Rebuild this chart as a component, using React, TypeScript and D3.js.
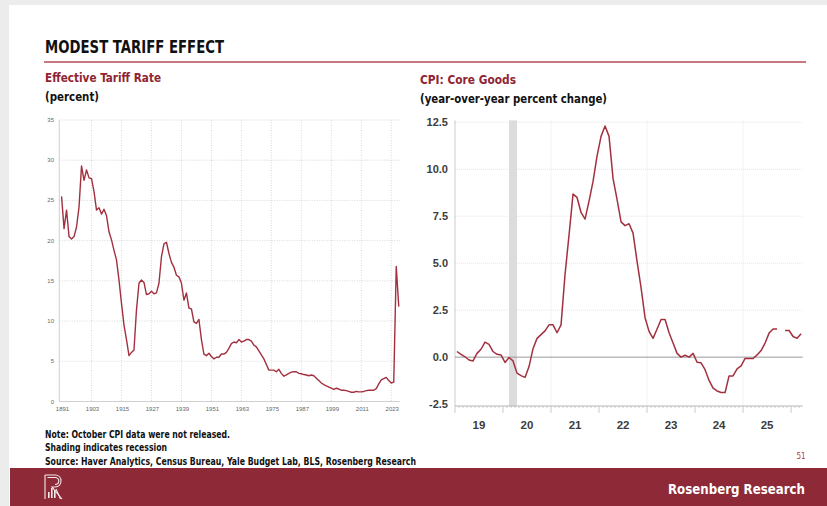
import React from 'react';
import * as d3 from 'd3';

// ---------- Effective tariff rate (percent), annual from 1891 ----------
const tariffStartYear = 1891;
const tariffRate = [
  25.5, 21.5, 23.8, 20.5, 20.2, 20.5, 21.7, 24.2, 29.3, 27.5, // 1891-1900
  28.8, 27.8, 27.7, 26.1, 23.8, 24.1, 23.3, 23.9, 23.1, 21.1, // 1901-1910
  20.1, 18.8, 17.6, 15.1, 12.2, 9.5, 7.7, 5.7, 6.1, 6.4, // 1911-1920
  11.4, 14.7, 15.1, 14.8, 13.3, 13.4, 13.7, 13.4, 13.5, 14.7, // 1921-1930
  18.0, 19.6, 19.8, 18.4, 17.3, 16.7, 15.7, 15.5, 14.7, 12.6, // 1931-1940
  13.5, 11.6, 11.5, 9.9, 9.7, 10.2, 7.7, 5.9, 5.7, 6.0, // 1941-1950
  5.6, 5.3, 5.5, 5.5, 5.9, 5.9, 6.1, 6.6, 7.2, 7.4, // 1951-1960
  7.3, 7.7, 7.4, 7.5, 7.7, 7.7, 7.5, 7.0, 6.8, 6.3, // 1961-1970
  5.8, 5.3, 4.6, 3.9, 3.9, 3.9, 3.7, 4.0, 3.5, 3.15, // 1971-1980
  3.3, 3.5, 3.65, 3.7, 3.7, 3.5, 3.45, 3.35, 3.3, 3.2, // 1981-1990
  3.3, 3.2, 2.9, 2.6, 2.3, 2.1, 1.95, 1.8, 1.65, 1.5, // 1991-2000
  1.65, 1.55, 1.4, 1.4, 1.35, 1.25, 1.15, 1.15, 1.25, 1.2, // 2001-2010
  1.2, 1.25, 1.35, 1.4, 1.4, 1.4, 1.6, 2.2, 2.7, 2.85, // 2011-2020
  3.0, 2.6, 2.3, 2.4, 16.8, 11.8, // 2021-2026
];
const tariffXTicks = [1891, 1903, 1915, 1927, 1939, 1951, 1963, 1975, 1987, 1999, 2011, 2023];
const tariffYTicks = [0, 5, 10, 15, 20, 25, 30, 35];

// ---------- CPI core goods (y/y %), monthly from Jan 2019 ----------
const cpiStartYear = 2019;
const cpiCoreGoods: (number | null)[] = [
  0.3, 0.15, 0.02, -0.15, -0.2, 0.2, 0.42, 0.8, 0.68, 0.3, 0.15, 0.12, // 2019
  -0.28, -0.02, -0.2, -0.85, -0.98, -1.08, -0.5, 0.45, 1.0, 1.2, 1.4, 1.72, // 2020
  1.72, 1.3, 1.72, 4.4, 6.5, 8.68, 8.5, 7.7, 7.35, 8.3, 9.35, 10.7, // 2021
  11.75, 12.3, 11.75, 9.5, 8.4, 7.2, 7.0, 7.1, 6.6, 5.1, 3.7, 2.1, // 2022
  1.37, 1.0, 1.5, 2.0, 2.0, 1.3, 0.75, 0.2, 0.0, 0.1, 0.0, 0.2, // 2023
  -0.27, -0.3, -0.67, -1.24, -1.65, -1.8, -1.88, -1.88, -1.0, -1.0, -0.62, -0.46, // 2024
  -0.07, -0.07, -0.07, 0.12, 0.35, 0.75, 1.28, 1.5, 1.5, null, 1.42, 1.42, // 2025 (Oct not released)
  1.1, 1.0, 1.24, // 2026
];
const cpiYearLabels = ['19', '20', '21', '22', '23', '24', '25'];
const cpiYTicks = [-2.5, 0, 2.5, 5, 7.5, 10, 12.5];
const cpiGridYears = [2021, 2023, 2025];
// COVID recession, Feb–Apr 2020 (month index from Jan 2019)
const recessionMonths = [13, 15];

const TITLE_RED = '#8f2533';
const LINE_RED = '#a3303f';
const BAND_RED = '#8e2a37';
const COND = "'Liberation Sans Narrow', 'Arial Narrow', 'DejaVu Sans Condensed', sans-serif";
const SANS = "'Liberation Sans', Arial, sans-serif";

export default function App() {
  // Left panel scales
  const xL = d3.scaleLinear().domain([1890.1, 2026.5]).range([59.3, 400]);
  const yL = d3.scaleLinear().domain([0, 35]).range([401.5, 120]);
  const tariffLine = d3
    .line<number>()
    .x((_, i) => xL(tariffStartYear + i))
    .y((d) => yL(d));

  // Right panel scales (x in months since Jan 2019)
  const xR = d3.scaleLinear().domain([0, 86.9]).range([455, 802.7]);
  const yR = d3.scaleLinear().domain([-2.6, 12.6]).range([406, 120.4]);
  const cpiLine = d3
    .line<number | null>()
    .defined((d) => d !== null)
    .x((_, i) => xR(i + 0.5))
    .y((d) => yR(d as number));

  const monthTicks = d3.range(0, 87);
  const [r0, r1] = recessionMonths;

  return (
    <svg
      width={827}
      height={506}
      viewBox="0 0 827 506"
      style={{ position: 'absolute', left: 0, top: 0, display: 'block', background: '#fff' }}
    >
      {/* slide frame */}
      <rect x={0} y={0} width={827} height={506} fill="#ececec" />
      <rect x={9} y={5} width={818} height={501} fill="#ffffff" />

      {/* header */}
      <text x={45} y={53} fontFamily={COND} fontWeight={700} fontSize={17.5} fill="#111"
        textLength={179} lengthAdjust="spacingAndGlyphs">MODEST TARIFF EFFECT</text>
      <line x1={44} x2={806} y1={62} y2={62} stroke="#b24a58" strokeWidth={1.6} />

      <text x={45} y={81.5} fontFamily={COND} fontWeight={700} fontSize={13} fill={TITLE_RED}
        textLength={116} lengthAdjust="spacingAndGlyphs">Effective Tariff Rate</text>
      <text x={45} y={100.5} fontFamily={COND} fontWeight={700} fontSize={13} fill="#111"
        textLength={54} lengthAdjust="spacingAndGlyphs">(percent)</text>
      <text x={420} y={83.5} fontFamily={COND} fontWeight={700} fontSize={13} fill={TITLE_RED}
        textLength={96} lengthAdjust="spacingAndGlyphs">CPI: Core Goods</text>
      <text x={420} y={103} fontFamily={COND} fontWeight={700} fontSize={13} fill="#111"
        textLength={187} lengthAdjust="spacingAndGlyphs">(year-over-year percent change)</text>

      {/* ---------- left panel: effective tariff rate ---------- */}
      <g>
        {tariffYTicks.filter((t) => t > 0).map((t) => (
          <line key={'lh' + t} x1={xL.range()[0]} x2={xL.range()[1]} y1={yL(t)} y2={yL(t)}
            stroke="#cfcfcf" strokeWidth={0.8} strokeDasharray="1,1.5" />
        ))}
        {tariffXTicks.slice(1).map((t) => (
          <line key={'lv' + t} x1={xL(t)} x2={xL(t)} y1={yL(35)} y2={yL(0)}
            stroke="#cfcfcf" strokeWidth={0.8} strokeDasharray="1,1.5" />
        ))}
        <line x1={xL.range()[0]} x2={xL.range()[0]} y1={yL(35)} y2={yL(0)} stroke="#c4c4c4" strokeWidth={0.8} />
        <line x1={xL.range()[0]} x2={xL.range()[1]} y1={yL(0)} y2={yL(0)} stroke="#c4c4c4" strokeWidth={0.8} />
        {tariffYTicks.map((t) => (
          <text key={'ly' + t} x={54} y={yL(t) + 2} textAnchor="end" fontFamily={SANS}
            fontSize={6} fill="#666">{t}</text>
        ))}
        {tariffXTicks.map((t) => (
          <text key={'lx' + t} x={xL(t) + 1} y={411} textAnchor="middle" fontFamily={SANS}
            fontSize={6} fill="#666">{t}</text>
        ))}
        <path d={tariffLine(tariffRate) || ''} fill="none" stroke={LINE_RED} strokeWidth={1.4}
          strokeLinejoin="round" />
      </g>

      {/* ---------- right panel: CPI core goods ---------- */}
      <g>
        <rect x={xR(r0 + 0.5)} width={xR(r1 + 0.5) - xR(r0 + 0.5)} y={yR(12.6)}
          height={yR(-2.6) - yR(12.6)} fill="#dcdcdc" />
        {cpiYTicks.filter((t) => t !== 0 && t !== -2.5).map((t) => (
          <line key={'rh' + t} x1={xR(0)} x2={xR(86.9)} y1={yR(t)} y2={yR(t)}
            stroke="#dedede" strokeWidth={0.8} strokeDasharray="1,1" />
        ))}
        {cpiGridYears.map((yr) => (
          <line key={'rv' + yr} x1={xR((yr - cpiStartYear) * 12)} x2={xR((yr - cpiStartYear) * 12)}
            y1={yR(12.6)} y2={yR(-2.6)} stroke="#e2e2e2" strokeWidth={0.8} strokeDasharray="1,1" />
        ))}
        <line x1={xR(0)} x2={xR(0)} y1={yR(12.6)} y2={yR(-2.6)} stroke="#cccccc" strokeWidth={1} />
        <line x1={xR(0)} x2={xR(86.9)} y1={yR(0)} y2={yR(0)} stroke="#9a9a9a" strokeWidth={1} />
        <line x1={xR(0)} x2={xR(86.9)} y1={yR(-2.6)} y2={yR(-2.6)} stroke="#b5b5b5" strokeWidth={1} />
        {monthTicks.map((m) => (
          <line key={'mt' + m} x1={xR(m)} x2={xR(m)} y1={yR(-2.6)}
            y2={yR(-2.6) + (m % 12 === 0 ? 7 : 2)} stroke="#b5b5b5" strokeWidth={0.7} />
        ))}
        {cpiYTicks.map((t) => (
          <text key={'ry' + t} x={448} y={yR(t) + 4} textAnchor="end" fontFamily={SANS}
            fontWeight={700} fontSize={11} fill="#3c3c3c">{t.toFixed(1)}</text>
        ))}
        {cpiYearLabels.map((lab, i) => (
          <text key={'rx' + lab} x={xR(i * 12 + 6)} y={428.5} textAnchor="middle" fontFamily={SANS}
            fontWeight={700} fontSize={11.5} fill="#3c3c3c">{lab}</text>
        ))}
        <path d={cpiLine(cpiCoreGoods) || ''} fill="none" stroke={LINE_RED} strokeWidth={1.5}
          strokeLinejoin="round" />
      </g>

      {/* footnotes */}
      <text x={45} y={437.5} fontFamily={COND} fontWeight={700} fontSize={10} fill="#111"
        textLength={185} lengthAdjust="spacingAndGlyphs">Note: October CPI data were not released.</text>
      <text x={45} y={451} fontFamily={COND} fontWeight={700} fontSize={10} fill="#111"
        textLength={122} lengthAdjust="spacingAndGlyphs">Shading indicates recession</text>
      <text x={45} y={464.5} fontFamily={COND} fontWeight={700} fontSize={10} fill="#111"
        textLength={371} lengthAdjust="spacingAndGlyphs">Source: Haver Analytics, Census Bureau, Yale Budget Lab, BLS, Rosenberg Research</text>
      <text x={801} y={459} textAnchor="middle" fontFamily={COND} fontSize={8} fill="#b03a48">51</text>

      {/* footer band */}
      <rect x={10} y={468} width={817} height={38} fill={BAND_RED} />
      <g transform="translate(45,475)" fill="none" stroke="#f4e9ea" strokeWidth={1.1}>
        <path d="M0,0 H10 C18,0 18,12 10,12 H7 L17,24" />
        <path d="M2.5,2.5 H10 C15,2.5 15,9.5 10,9.5" />
        <path d="M0,0 V24" />
        <rect x={3} y={17} width={1.6} height={6} fill="#f4e9ea" stroke="none" />
        <rect x={6} y={13} width={1.6} height={10} fill="#f4e9ea" stroke="none" />
        <rect x={9} y={15} width={1.6} height={8} fill="#f4e9ea" stroke="none" />
        <path d="M11,14 L15.5,24" />
      </g>
      <text x={668} y={493.5} fontFamily={COND} fontWeight={700} fontSize={14}
        fill="#ffffff" textLength={137} lengthAdjust="spacingAndGlyphs">Rosenberg Research</text>
    </svg>
  );
}
